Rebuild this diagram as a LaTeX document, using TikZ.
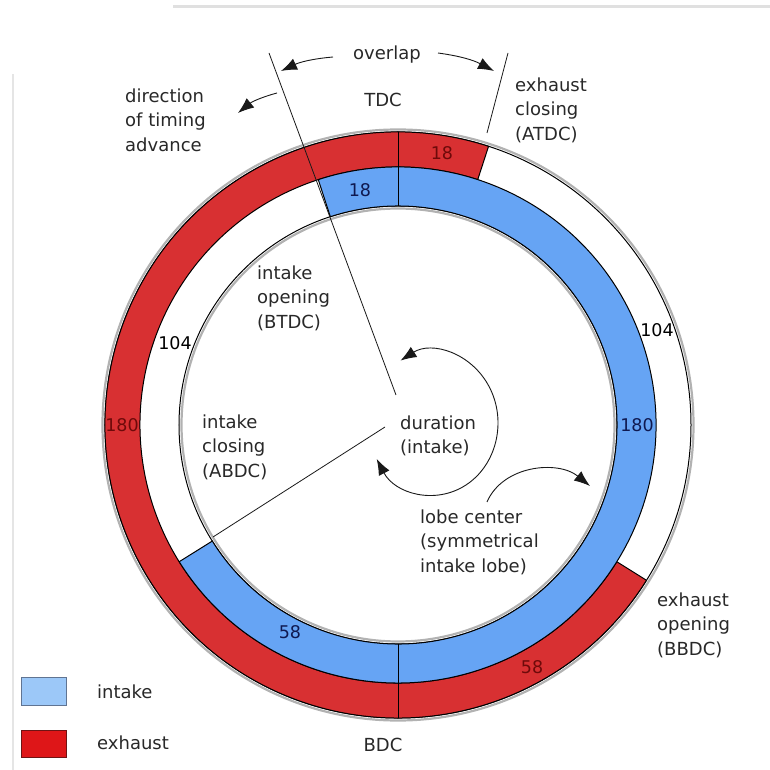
\documentclass[tikz,border=0pt]{standalone}
\usepackage{fontspec}
\setmainfont{DejaVu Sans}
\usetikzlibrary{arrows.meta}
\definecolor{exred}{RGB}{216,48,50}
\definecolor{inblue}{RGB}{102,164,244}
\definecolor{legblue}{RGB}{156,200,248}
\definecolor{legblueb}{RGB}{96,116,146}
\definecolor{legred}{RGB}{222,22,24}
\definecolor{legredb}{RGB}{110,20,20}
\definecolor{txt}{RGB}{40,40,40}
\definecolor{numred}{RGB}{110,10,10}
\definecolor{numblue}{RGB}{15,25,80}
\tikzset{
  lbl/.style={text=txt, font=\fontsize{18}{24.5}\selectfont, inner sep=0pt, align=left, anchor=west},
  ctr/.style={text=txt, font=\fontsize{18}{24.5}\selectfont, inner sep=0pt},
  num/.style={font=\fontsize{17.5}{20}\selectfont, inner sep=0pt},
  thinline/.style={draw=black!90, line width=0.8pt},
  arr/.style={draw=black!90, line width=0.9pt, -{Latex[length=16pt,width=12pt]}},
  darr/.style={draw=black!90, line width=0.9pt, {Latex[length=16pt,width=12pt]}-{Latex[length=16pt,width=12pt]}},
  ringedge/.style={draw=black, line width=1pt}
}
\begin{document}
\begin{tikzpicture}[x=1pt,y=1pt]
\useasboundingbox (-398,-345) rectangle (372,425);
% scan artifacts
\draw[black!12, line width=3pt] (-225,418) -- (372,418);
\draw[black!10, line width=1.2pt] (-385,351) -- (-385,-345);
% shadows
\draw[black!30, line width=2.2pt] (0,0) circle[radius=295.5pt];
\draw[black!30, line width=2.2pt] (0,0) circle[radius=216.5pt];
% base circles
\draw[ringedge] (0,0) circle[radius=293pt];
\draw[ringedge] (0,0) circle[radius=219pt];
% exhaust ring
\filldraw[fill=exred, ringedge] (72:293pt) arc[start angle=72, end angle=328, radius=293pt]
  -- (328:258pt) arc[start angle=328, end angle=72, radius=258pt] -- cycle;
% intake ring
\filldraw[fill=inblue, ringedge] (108:258pt) arc[start angle=108, end angle=-148, radius=258pt]
  -- (-148:219pt) arc[start angle=-148, end angle=108, radius=219pt] -- cycle;
% TDC / BDC dividers
\coordinate (tdcA) at (90:219pt); \coordinate (tdcB) at (90:293pt);
\coordinate (bdcA) at (-90:219pt); \coordinate (bdcB) at (-90:293pt);
\draw[ringedge] (tdcA) -- (tdcB);
\draw[ringedge] (bdcA) -- (bdcB);
% long reference lines
\coordinate (ioTop) at (-129,372); \coordinate (ioBot) at (-2,30);
\draw[thinline] (ioTop) -- (ioBot);
\coordinate (ecTop) at (110,372); \coordinate (ecBot) at (89,292);
\draw[thinline] (ecTop) -- (ecBot);
\coordinate (icOut) at (-185,-112); \coordinate (icIn) at (-13,-2);
\draw[thinline] (icOut) -- (icIn);
% numbers
\node[num, text=numred] (n18r) at (44,272) {18};
\node[num, text=numblue] (n18b) at (-38,235) {18};
\node[num, text=black] (n104l) at (-223,82) {104};
\node[num, text=black] (n104r) at (259,95) {104};
\node[num, text=numred] (n180r) at (-276,0) {180};
\node[num, text=numblue] (n180b) at (239,0) {180};
\node[num, text=numblue] (n58b) at (-108,-207) {58};
\node[num, text=numred] (n58r) at (134,-242) {58};
% labels
\node[ctr] (overlap) at (-11,370) {overlap};
\node[ctr] (tdc) at (-15,325) {TDC};
\node[ctr] (bdc) at (-15,-320) {BDC};
\node[lbl] (adv) at (-273,305) {direction\\of timing\\advance};
\node[lbl] (ecl) at (117,315) {exhaust\\closing\\(ATDC)};
\node[lbl] (iop) at (-141,127) {intake\\opening\\(BTDC)};
\node[lbl] (icl) at (-196,-22) {intake\\closing\\(ABDC)};
\node[lbl] (dur) at (2,-11) {duration\\(intake)};
\node[lbl] (lobe) at (22,-117) {lobe center\\(symmetrical\\intake lobe)};
\node[lbl] (eop) at (259,-200) {exhaust\\opening\\(BBDC)};
% arrows
\coordinate (ovLs) at (-65,368); \coordinate (ovLe) at (-117,354);
\draw[arr] (ovLs) to[bend right=10] (ovLe);
\coordinate (ovRs) at (40,372); \coordinate (ovRe) at (96,354);
\draw[arr] (ovRs) to[bend left=10] (ovRe);
\coordinate (advS) at (-121,332); \coordinate (advE) at (-160,312);
\draw[arr] (advS) to[bend right=12] (advE);
\coordinate (lobS) at (89,-77); \coordinate (lobE) at (192,-61);
\draw[arr] (lobS) .. controls (105,-40) and (160,-35) .. (lobE);
\coordinate (durC) at (35,2);
\draw[darr] (2.5,64.4) arc[start angle=120, end angle=-150, x radius=65pt, y radius=72pt];
% legend
\node[draw=legblueb, fill=legblue, line width=1pt, minimum width=45pt, minimum height=28pt, inner sep=0pt] (legI) at (-353.5,-266) {};
\node[draw=legredb, fill=legred, line width=1pt, minimum width=45pt, minimum height=27pt, inner sep=0pt] (legE) at (-353.5,-318.5) {};
\node[lbl] (legIt) at (-301,-267) {intake};
\node[lbl] (legEt) at (-301,-318) {exhaust};
\end{tikzpicture}
\end{document}
